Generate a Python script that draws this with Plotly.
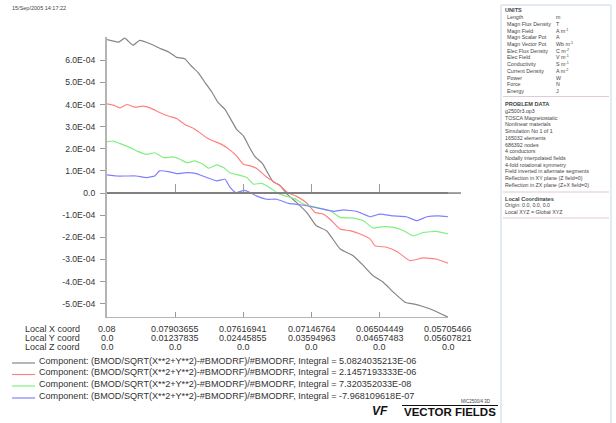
import plotly.graph_objects as go

# ---------------- data ----------------
tick_pos = [0, 1, 2, 3, 4, 5]
local_x = ["0.08", "0.07903655", "0.07616941", "0.07146764", "0.06504449", "0.05705466"]
local_y = ["0.0", "0.01237835", "0.02445855", "0.03594963", "0.04657483", "0.05607821"]
local_z = ["0.0", "0.0", "0.0", "0.0", "0.0", "0.0"]
row_labels = ["Local X coord", "Local Y coord", "Local Z coord"]

y_tickvals = [6e-4, 5e-4, 4e-4, 3e-4, 2e-4, 1e-4, 0, -1e-4, -2e-4, -3e-4, -4e-4, -5e-4]
y_ticktext = ["6.0E-04", "5.0E-04", "4.0E-04", "3.0E-04", "2.0E-04", "1.0E-04", "0.0",
              "-1.0E-04", "-2.0E-04", "-3.0E-04", "-4.0E-04", "-5.0E-04"]

gray_s = [0, 0.17, 0.26, 0.38, 0.48, 0.66, 0.78, 0.90, 1.02, 1.14, 1.24, 1.34, 1.44, 1.53, 1.63,
          1.73, 1.83, 1.90, 2.0, 2.10, 2.17, 2.28, 2.38, 2.44, 2.53, 2.64, 2.78, 2.93, 3.07, 3.22,
          3.42, 3.61, 3.76, 3.90, 4.05, 4.20, 4.37, 4.54, 4.73, 4.88, 5.0]
gray_v = [6.93, 6.82, 7.0, 6.68, 6.90, 6.71, 6.53, 6.38, 6.13, 6.07, 5.73, 5.43, 4.98, 4.60, 4.08,
          3.78, 3.25, 2.88, 2.58, 2.0, 1.65, 1.33, 0.78, 0.50, 0.36, -0.05, -0.43, -0.88, -1.48, -1.70,
          -2.53, -2.83, -3.28, -3.73, -4.03, -4.48, -4.93, -5.04, -5.23, -5.43, -5.61]

red_s = [0, 0.09, 0.19, 0.29, 0.41, 0.53, 0.63, 0.78, 0.90, 1.02, 1.14, 1.27, 1.36, 1.46, 1.56,
         1.68, 1.80, 1.90, 2.0, 2.10, 2.20, 2.33, 2.45, 2.54, 2.65, 2.78, 2.93, 3.05, 3.17, 3.27,
         3.42, 3.56, 3.71, 3.86, 3.93, 4.10, 4.25, 4.44, 4.64, 4.83, 5.0]
red_v = [4.03, 3.97, 3.85, 4.0, 3.88, 3.93, 3.85, 3.63, 3.48, 3.37, 3.10, 2.92, 2.73, 2.50, 2.35,
         2.20, 1.95, 1.68, 1.30, 1.23, 1.10, 0.75, 0.50, 0.32, 0.02, -0.15, -0.45, -0.88, -0.95, -1.18,
         -1.63, -1.70, -1.85, -2.08, -2.38, -2.45, -2.64, -3.05, -2.93, -2.98, -3.17]

green_s = [0, 0.09, 0.22, 0.34, 0.46, 0.58, 0.70, 0.83, 0.97, 1.07, 1.17, 1.29, 1.41, 1.49, 1.61,
           1.71, 1.80, 1.95, 2.05, 2.15, 2.27, 2.40, 2.51, 2.61, 2.75, 2.88, 3.07, 3.27, 3.42, 3.61,
           3.76, 3.90, 4.05, 4.20, 4.35, 4.49, 4.64, 4.83, 5.0]
green_v = [2.32, 2.35, 2.20, 2.05, 1.87, 1.75, 1.82, 1.60, 1.63, 1.53, 1.37, 1.45, 1.30, 1.12, 1.27,
           1.15, 0.92, 0.80, 0.70, 0.40, 0.44, 0.22, -0.02, -0.13, -0.25, -0.50, -0.65, -0.80, -1.10, -1.13,
           -1.25, -1.58, -1.52, -1.55, -1.70, -1.93, -1.78, -1.73, -1.85]

blue_s = [0, 0.14, 0.29, 0.43, 0.58, 0.70, 0.77, 0.90, 1.02, 1.17, 1.31, 1.46, 1.61, 1.73, 1.80,
          1.89, 2.01, 2.10, 2.19, 2.34, 2.49, 2.66, 2.83, 3.0, 3.17, 3.32, 3.47, 3.66, 3.86, 4.0,
          4.20, 4.39, 4.54, 4.69, 4.86, 5.0]
blue_v = [0.82, 0.77, 0.77, 0.77, 0.70, 0.77, 1.0, 0.97, 0.88, 0.92, 0.88, 0.70, 0.55, 0.62, 0.28,
          0.02, 0.12, 0.02, -0.13, -0.28, -0.28, -0.47, -0.53, -0.62, -0.73, -0.83, -0.76, -0.83, -1.07, -0.95,
          -1.03, -1.07, -1.25, -1.07, -1.03, -1.07]

series_names = [
    "Component: (BMOD/SQRT(X**2+Y**2)-#BMODRF)/#BMODRF, Integral = 5.0824035213E-06",
    "Component: (BMOD/SQRT(X**2+Y**2)-#BMODRF)/#BMODRF, Integral = 2.1457193333E-06",
    "Component: (BMOD/SQRT(X**2+Y**2)-#BMODRF)/#BMODRF, Integral = 7.320352033E-08",
    "Component: (BMOD/SQRT(X**2+Y**2)-#BMODRF)/#BMODRF, Integral = -7.968109618E-07",
]
series_colors = ["#858585", "#ff8080", "#80f080", "#8080ff"]

units_names = ["Length", "Magn Flux Density", "Magn Field", "Magn Scalar Pot", "Magn Vector Pot",
               "Elec Flux Density", "Elec Field", "Conductivity", "Current Density", "Power",
               "Force", "Energy"]
units_vals = ["m", "T", "A m<sup>-1</sup>", "A", "Wb m<sup>-1</sup>", "C m<sup>-2</sup>",
              "V m<sup>-1</sup>", "S m<sup>-1</sup>", "A m<sup>-2</sup>", "W", "N", "J"]
problem_lines = ["g2500r3.op3", "TOSCA Magnetostatic", "Nonlinear materials", "Simulation No 1 of 1",
                 "165032 elements", "686392 nodes", "4 conductors", "Nodally interpolated fields",
                 "4-fold rotational symmetry", "Field inverted in alternate segments",
                 "Reflection in XY plane (Z field=0)", "Reflection in ZX plane (Z+X field=0)"]
local_lines = ["Origin: 0.0, 0.0, 0.0", "Local XYZ = Global XYZ"]

# ---------------- layout geometry ----------------
W, H = 616, 423
L, R, T, B = 107, 448, 37, 317
YMIN, YMAX = -5.6e-4, 7.05e-4


def px(x):
    return (x - L) / (R - L)


def py(y):
    return (B - y) / (B - T)


FONT = "Liberation Sans, Arial, sans-serif"
TXT = "#333333"

fig = go.Figure()
all_s = [gray_s, red_s, green_s, blue_s]
all_v = [gray_v, red_v, green_v, blue_v]
for s, v, name, col in zip(all_s, all_v, series_names, series_colors):
    fig.add_trace(go.Scatter(x=s, y=[val * 1e-4 for val in v], mode="lines", name=name,
                             line=dict(color=col, width=1.2, shape="spline", smoothing=0.4),
                             showlegend=False, hoverinfo="skip"))

annotations = []
shapes = []

# x tick label rows
rows_y = [329, 338, 347]
for ry, lab, vals in zip(rows_y, row_labels, [local_x, local_y, local_z]):
    annotations.append(dict(x=px(23), y=py(ry), xref="paper", yref="paper", text=lab,
                            showarrow=False, xanchor="left", yanchor="middle",
                            font=dict(family=FONT, size=9, color=TXT)))
    for tp, tv in zip(tick_pos, vals):
        annotations.append(dict(x=tp, y=py(ry), xref="x", yref="paper", text=tv,
                                showarrow=False, xanchor="center", yanchor="middle",
                                font=dict(family=FONT, size=9, color=TXT)))

# legend rows
leg_y = [360.5, 372, 383.5, 395.5]
for ly, name, col in zip(leg_y, series_names, series_colors):
    shapes.append(dict(type="line", xref="paper", yref="paper", x0=px(12), x1=px(35),
                       y0=py(ly + 2.5), y1=py(ly + 2.5), line=dict(color=col, width=1.2)))
    annotations.append(dict(x=px(37), y=py(ly), xref="paper", yref="paper", text=name,
                            showarrow=False, xanchor="left", yanchor="middle",
                            font=dict(family=FONT, size=9.1, color=TXT)))

# date stamp
annotations.append(dict(x=px(10), y=py(8), xref="paper", yref="paper", text="15/Sep/2005 14:17:22",
                        showarrow=False, xanchor="left", yanchor="middle",
                        font=dict(family=FONT, size=5.5, color="#444444")))

# model id + logo
annotations.append(dict(x=px(493), y=py(401), xref="paper", yref="paper", text="MIC2500/4 3D",
                        showarrow=False, xanchor="right", yanchor="middle",
                        font=dict(family=FONT, size=4.5, color="#444444")))
annotations.append(dict(x=px(498), y=py(412), xref="paper", yref="paper", text="<b>VECTOR FIELDS</b>",
                        showarrow=False, xanchor="right", yanchor="middle",
                        font=dict(family=FONT, size=11.5, color="#111111")))
annotations.append(dict(x=px(380), y=py(411), xref="paper", yref="paper", text="<b><i>VF</i></b>",
                        showarrow=False, xanchor="center", yanchor="middle",
                        font=dict(family=FONT, size=12, color="#111111")))
shapes.append(dict(type="line", xref="paper", yref="paper", x0=px(402), x1=px(498),
                   y0=py(405.5), y1=py(405.5), line=dict(color="#111111", width=1)))

# extension of zero line
shapes.append(dict(type="line", xref="paper", yref="y", x0=px(R), x1=px(461), y0=0, y1=0,
                   line=dict(color="#808080", width=1.5)))

# right info panel
shapes.append(dict(type="rect", xref="paper", yref="paper", x0=px(501), x1=px(611),
                   y0=py(5), y1=py(430), line=dict(color="#c5d6e8", width=1), fillcolor="white"))


def panel_text(x, y, text, bold=False, size=5.3):
    annotations.append(dict(x=px(x), y=py(y), xref="paper", yref="paper",
                            text=("<b>%s</b>" % text) if bold else text,
                            showarrow=False, xanchor="left", yanchor="middle",
                            font=dict(family=FONT, size=size, color="#444444")))


def sep(y):
    shapes.append(dict(type="line", xref="paper", yref="paper", x0=px(503), x1=px(609),
                       y0=py(y), y1=py(y), line=dict(color="#e3c9d2", width=1)))


STEP = 6.7
panel_text(503, 10.5, "UNITS", bold=True, size=5.6)
for i, (n, v) in enumerate(zip(units_names, units_vals)):
    yy = 17.2 + i * STEP
    panel_text(505, yy, n)
    panel_text(554, yy, v)
sep(96.5)
panel_text(503, 104, "PROBLEM DATA", bold=True, size=5.6)
for i, t in enumerate(problem_lines):
    panel_text(503, 111 + i * STEP, t)
sep(192)
panel_text(503, 198.5, "Local Coordinates", bold=True, size=5.6)
for i, t in enumerate(local_lines):
    panel_text(503, 205.2 + i * STEP, t)
sep(218)

fig.update_layout(
    width=W, height=H,
    margin=dict(l=L, r=W - R, t=T, b=H - B, pad=0),
    paper_bgcolor="white", plot_bgcolor="white",
    showlegend=False,
    font=dict(family=FONT, size=9, color=TXT),
    xaxis=dict(range=[0, 5], tickvals=tick_pos, showticklabels=False, showgrid=False, zeroline=False,
               showline=True, linecolor="#b4b4b4", linewidth=1.2, ticks="inside", ticklen=5,
               tickcolor="#9a9a9a", tickwidth=1, fixedrange=True),
    xaxis2=dict(range=[0, 5], overlaying="x", anchor="free", position=(0 - YMIN) / (YMAX - YMIN),
                side="bottom", tickvals=tick_pos, showticklabels=False, showgrid=False, zeroline=False,
                showline=True, linecolor="#808080", linewidth=1.5, ticks="inside", ticklen=8,
                tickcolor="#9a9a9a", tickwidth=1),
    yaxis=dict(range=[YMIN, YMAX], tickvals=y_tickvals, ticktext=y_ticktext, showgrid=False,
               zeroline=False, showline=True, linecolor="#b4b4b4", linewidth=2,
               ticks="outside", ticklen=5, tickcolor="#9a9a9a", tickwidth=1,
               tickfont=dict(family=FONT, size=8.6, color=TXT), ticklabelstandoff=3),
    annotations=annotations,
    shapes=shapes,
)
# dummy trace to activate xaxis2
fig.add_trace(go.Scatter(x=[0], y=[0], xaxis="x2", mode="lines", line=dict(width=0),
                         showlegend=False, hoverinfo="skip"))

fig.write_html("out.html", config={"displayModeBar": False},
               post_script="document.body.style.margin='0';document.body.style.overflow='hidden';")
